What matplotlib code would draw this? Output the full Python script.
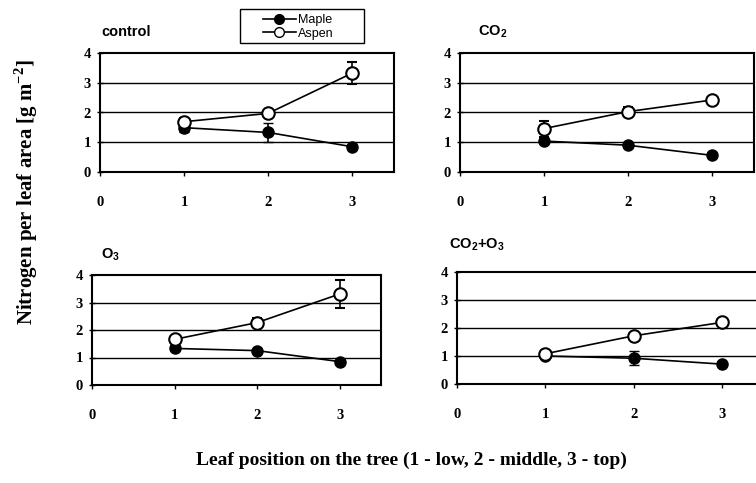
import numpy as np
import matplotlib.pyplot as plt
from matplotlib.lines import Line2D
from matplotlib.patches import Rectangle

plt.rcParams['mathtext.fontset'] = 'custom'
plt.rcParams['mathtext.rm'] = 'Liberation Serif:bold'
plt.rcParams['mathtext.sf'] = 'Liberation Sans:bold'

# leaf position on the tree
positions = [1, 2, 3]
panel_titles = ['control', 'CO$_\\mathsf{2}$', 'O$_\\mathsf{3}$',
                'CO$_\\mathsf{2}$+O$_\\mathsf{3}$']

# nitrogen per leaf area [g m-2], one list per panel
maple = [[1.49, 1.33, 0.85],
         [1.04, 0.90, 0.56],
         [1.33, 1.25, 0.85],
         [1.00, 0.92, 0.71]]
maple_err = [[0.15, 0.32, 0.05],
             [0.05, 0.05, 0.05],
             [0.05, 0.05, 0.04],
             [0.05, 0.25, 0.05]]
aspen = [[1.69, 1.97, 3.32],
         [1.46, 2.03, 2.42],
         [1.66, 2.27, 3.31],
         [1.08, 1.72, 2.20]]
aspen_err = [[0.12, 0.05, 0.37],
             [0.27, 0.15, 0.05],
             [0.08, 0.15, 0.50],
             [0.05, 0.05, 0.05]]

W, H = 756, 483
# axes boxes in pixels: left, top, right, bottom
boxes = [(100, 53, 394, 172),
         (460, 53, 754, 172),
         (92, 275, 381, 385),
         (457, 272, 766, 384)]
title_pos = [(101, 32), (478, 32), (101, 255), (449, 245)]

serif = 'Liberation Serif'
sans = 'Liberation Sans'

fig = plt.figure(figsize=(W / 100, H / 100), dpi=100)

for i, (l, t, r, b) in enumerate(boxes):
    ax = fig.add_axes([l / W, 1 - b / H, (r - l) / W, (b - t) / H])
    ax.set_xlim(0, 3.5)
    ax.set_ylim(0, 4)
    for y in [1, 2, 3]:
        ax.axhline(y, color='black', lw=1.0, zorder=1)
    ax.errorbar(positions, maple[i], yerr=maple_err[i], color='black', lw=1.2,
                marker='o', ms=8, mfc='black', mec='black', capsize=3.5,
                elinewidth=1.2, zorder=3)
    ax.errorbar(positions, aspen[i], yerr=aspen_err[i], color='black', lw=1.2,
                marker='o', ms=9, mfc='white', mec='black', mew=1.5, capsize=3.5,
                elinewidth=1.2, zorder=4)
    ax.set_xticks([0, 1, 2, 3])
    ax.set_yticks([0, 1, 2, 3, 4])
    ax.tick_params(axis='x', direction='out', length=3, pad=14, width=1)
    ax.tick_params(axis='y', direction='inout', length=5, pad=4, width=1)
    for lab in ax.get_xticklabels() + ax.get_yticklabels():
        lab.set_fontfamily(serif)
        lab.set_fontweight('bold')
        lab.set_fontsize(10.5)
    for s in ax.spines.values():
        s.set_linewidth(1.5)
    tx, ty = title_pos[i]
    fig.text(tx / W, 1 - ty / H, panel_titles[i], family=sans, weight='bold',
             fontsize=10.5, ha='left', va='center')

# legend with its own box
fig.patches.append(Rectangle((240 / W, 1 - 43 / H), 124 / W, 34 / H,
                             transform=fig.transFigure, fill=False,
                             edgecolor='black', lw=1.0))
handles = [Line2D([], [], color='black', lw=1.2, marker='o', ms=7, mfc='black'),
           Line2D([], [], color='black', lw=1.2, marker='o', ms=7, mfc='white')]
leg = fig.legend(handles, ['Maple', 'Aspen'], loc='upper left',
                 bbox_to_anchor=(263 / W, 1 - 14 / H), frameon=False,
                 prop={'family': sans, 'size': 9}, handlelength=2.6,
                 handletextpad=0.2, labelspacing=0.12, borderpad=0,
                 borderaxespad=0)

fig.text(26 / W, 1 - 192 / H, 'Nitrogen per leaf area [g m$^{\\mathrm{-2}}$]',
         rotation=90, family=serif, weight='bold', fontsize=15,
         ha='center', va='center')
fig.text(411 / W, 1 - 460 / H,
         'Leaf position on the tree (1 - low, 2 - middle, 3 - top)',
         family=serif, weight='bold', fontsize=14, ha='center', va='center')

fig.savefig('out.png', dpi=100)
